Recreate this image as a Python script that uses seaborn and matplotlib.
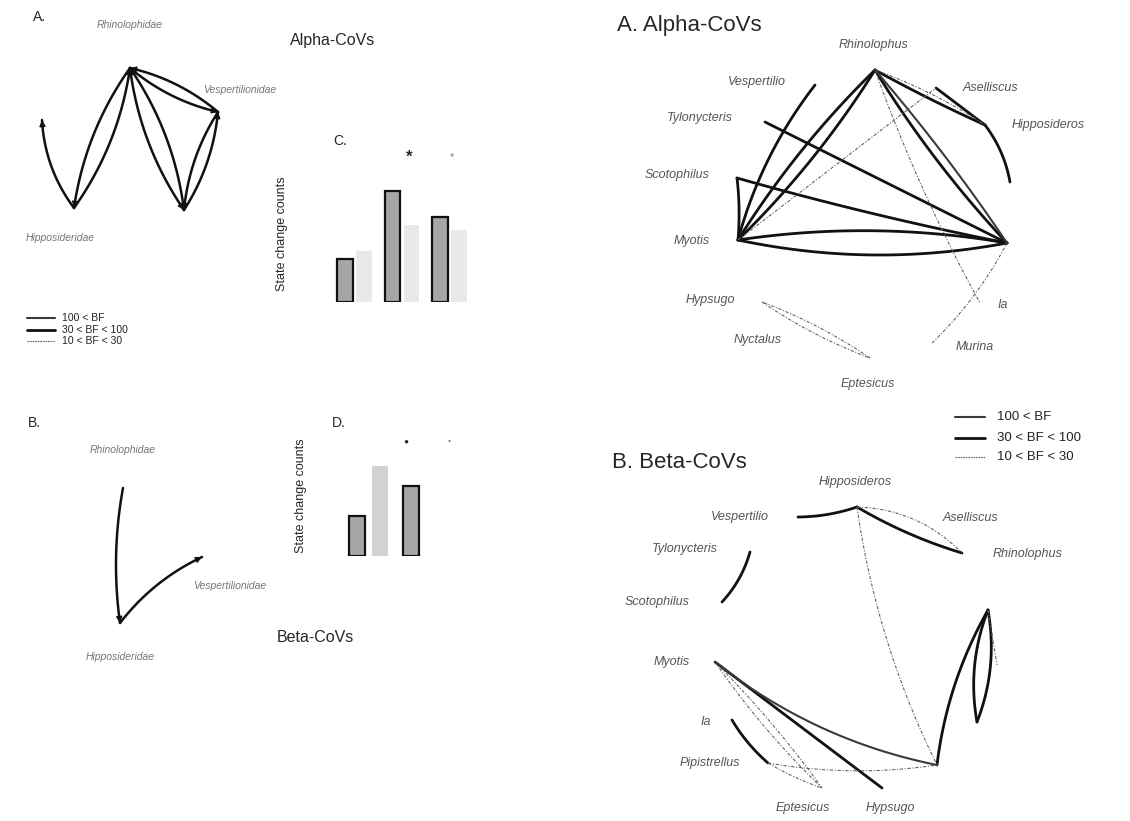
import numpy as np
import pandas as pd
import seaborn as sns
import matplotlib.pyplot as plt

W, H = 1130, 821

# ---- data -----------------------------------------------------------------
# bar panels (C: alpha, D: beta); dark = observed, faint = expected
bar_cats = ["t1", "t2", "t3"]
c_observed = [5, 13, 10]
c_expected = [6, 9, 8.5]
d_observed = [4, 7, 0]
d_expected = [9, 0, 0]

bf_labels = {"strong": "100 < BF", "mid": "30 < BF < 100", "weak": "10 < BF < 30"}

# left-hand family level networks (directed, source -> target)
famA_edges = [
    ("Hipposideridae", "Rhinolophidae"), ("Rhinolophidae", "Hipposideridae"),
    ("Hipposideridae", "fam_x"),
    ("Rhinolophidae", "fam_y"), ("fam_y", "Rhinolophidae"),
    ("Rhinolophidae", "Vespertilionidae"), ("Vespertilionidae", "Rhinolophidae"),
    ("Vespertilionidae", "fam_y"), ("fam_y", "Vespertilionidae"),
]
famB_edges = [("Rhinolophidae", "Hipposideridae"), ("Hipposideridae", "Vespertilionidae")]

# genus level networks: (source, target, BF class, bend)
alpha_edges = [
    ("Vespertilio", "Myotis", "mid", 0.10),
    ("Rhinolophus", "Myotis", "mid", 0.06), ("Myotis", "Rhinolophus", "mid", 0.06),
    ("Myotis", "Aselliscus", "weak", 0.0),
    ("Tylonycteris", "a_r1", "mid", 0.0),
    ("Scotophilus", "a_r1", "mid", 0.02),
    ("Scotophilus", "Myotis", "mid", -0.05),
    ("Myotis", "a_r1", "mid", 0.10), ("a_r1", "Myotis", "mid", 0.08),
    ("Rhinolophus", "a_r1", "mid", 0.05), ("a_r1", "Rhinolophus", "strong", 0.03),
    ("Rhinolophus", "Hipposideros", "mid", 0.02),
    ("Rhinolophus", "Hipposideros", "weak", -0.06),
    ("Aselliscus", "Hipposideros", "mid", 0.0),
    ("Hipposideros", "a_r2", "mid", -0.12),
    ("Rhinolophus", "Ia", "weak", 0.04),
    ("Murina", "a_r1", "weak", 0.08),
    ("Hypsugo", "Eptesicus", "weak", 0.06), ("Eptesicus", "Hypsugo", "weak", 0.06),
]
beta_edges = [
    ("Vespertilio", "Hipposideros", "mid", 0.08),
    ("Hipposideros", "Rhinolophus", "mid", 0.06),
    ("Hipposideros", "Rhinolophus", "weak", -0.2),
    ("Hipposideros", "b_br", "weak", 0.08),
    ("Tylonycteris", "Scotophilus", "mid", -0.12),
    ("Myotis", "b_br", "strong", 0.12),
    ("Myotis", "Hypsugo", "mid", 0.0),
    ("Myotis", "Eptesicus", "weak", -0.04),
    ("Myotis", "Eptesicus", "weak", 0.05),
    ("Ia", "Pipistrellus", "mid", 0.08),
    ("Pipistrellus", "b_br", "weak", 0.08),
    ("Pipistrellus", "Eptesicus", "weak", 0.05),
    ("b_br", "b_r1", "mid", -0.1),
    ("b_r1", "b_r2", "mid", 0.14), ("b_r2", "b_r1", "mid", 0.14),
    ("b_r1", "b_r3", "weak", 0.0),
]

# ---- layout (pixel positions of nodes and labels) -------------------------
famA_pos = {"Rhinolophidae": (130, 68), "Vespertilionidae": (218, 112),
            "Hipposideridae": (74, 208), "fam_x": (42, 120), "fam_y": (184, 210)}
famA_lab = {"Rhinolophidae": (130, 25), "Vespertilionidae": (240, 90),
            "Hipposideridae": (60, 238)}
famB_pos = {"Rhinolophidae": (123, 488), "Hipposideridae": (120, 623),
            "Vespertilionidae": (202, 557)}
famB_lab = {"Rhinolophidae": (123, 450), "Hipposideridae": (120, 657),
            "Vespertilionidae": (230, 586)}

alpha_pos = {"Rhinolophus": (875, 70), "Vespertilio": (815, 85), "Aselliscus": (936, 88),
             "Hipposideros": (985, 125), "Tylonycteris": (765, 122),
             "Scotophilus": (737, 178), "Myotis": (738, 240), "a_r1": (1007, 243),
             "a_r2": (1010, 182), "Hypsugo": (762, 302), "Nyctalus": (810, 342),
             "Eptesicus": (870, 358), "Ia": (980, 303), "Murina": (932, 343)}
alpha_lab = {"Rhinolophus": (873, 45), "Vespertilio": (757, 82), "Aselliscus": (990, 88),
             "Hipposideros": (1048, 125), "Tylonycteris": (700, 118),
             "Scotophilus": (677, 175), "Myotis": (692, 241), "Hypsugo": (710, 300),
             "Nyctalus": (758, 340), "Eptesicus": (868, 384), "Ia": (1003, 305),
             "Murina": (975, 347)}
beta_pos = {"Hipposideros": (857, 507), "Vespertilio": (798, 517), "Aselliscus": (913, 518),
            "Rhinolophus": (962, 553), "Tylonycteris": (750, 552), "Scotophilus": (722, 602),
            "Myotis": (715, 662), "Ia": (732, 720), "Pipistrellus": (768, 763),
            "Eptesicus": (822, 788), "Hypsugo": (882, 788), "b_br": (937, 765),
            "b_r1": (988, 610), "b_r2": (977, 722), "b_r3": (997, 665)}
beta_lab = {"Hipposideros": (855, 482), "Vespertilio": (740, 517), "Aselliscus": (970, 518),
            "Rhinolophus": (1027, 554), "Tylonycteris": (685, 549), "Scotophilus": (657, 602),
            "Myotis": (672, 662), "Ia": (706, 722), "Pipistrellus": (710, 763),
            "Eptesicus": (803, 808), "Hypsugo": (890, 808)}

bf_width = {"strong": 1.5, "mid": 2.0, "weak": 0.8}
bf_color = {"strong": "#3a3a3a", "mid": "#111111", "weak": "#666666"}
bf_dash = {"strong": "", "mid": "", "weak": (3, 1.5, 1, 1.5)}


def bezier(p, q, bend, n=40):
    p, q = np.asarray(p, float), np.asarray(q, float)
    d = q - p
    ctrl = (p + q) / 2 + bend * np.array([-d[1], d[0]])
    t = np.linspace(0, 1, n)[:, None]
    return (1 - t) ** 2 * p + 2 * (1 - t) * t * ctrl + t ** 2 * q


def edge_frame(edges, pos, tag):
    rows = []
    for i, (s, t, bf, bend) in enumerate(edges):
        pts = bezier(pos[s], pos[t], bend)
        for x, y in pts:
            rows.append({"edge": f"{tag}{i}", "x": x, "y": y, "bf": bf})
    return pd.DataFrame(rows)


sns.set_theme(style="white")
plt.rcParams["font.family"] = ["Liberation Sans", "DejaVu Sans"]

fig = plt.figure(figsize=(W / 100, H / 100), dpi=100)
ax = fig.add_axes([0, 0, 1, 1])

# genus networks
net = pd.concat([edge_frame(alpha_edges, alpha_pos, "a"),
                 edge_frame(beta_edges, beta_pos, "b")], ignore_index=True)
sns.lineplot(data=net, x="x", y="y", units="edge", estimator=None, sort=False,
             hue="bf", palette=bf_color, size="bf", sizes=bf_width,
             style="bf", dashes=bf_dash, legend=False, ax=ax)

# family networks with arrows
fam_rows = []
fam_arrows = []
for tag, edges, pos in [("A", famA_edges, famA_pos), ("B", famB_edges, famB_pos)]:
    for i, (s, t) in enumerate(edges):
        bend = 0.12 if tag == "A" else 0.08
        if tag == "B" and s == "Hipposideridae":
            bend = -0.12
        if s == "Hipposideridae" and t == "fam_x":
            bend = -0.15
        pts = bezier(pos[s], pos[t], bend)
        fam_arrows.append(pts)
        for x, y in pts:
            fam_rows.append({"edge": f"{tag}{i}", "x": x, "y": y})
fam = pd.DataFrame(fam_rows)
sns.lineplot(data=fam, x="x", y="y", units="edge", estimator=None, sort=False,
             color="#111111", linewidth=1.8, legend=False, ax=ax)
for pts in fam_arrows:
    ax.annotate("", xy=pts[-1], xytext=pts[-4],
                arrowprops=dict(arrowstyle="-|>", color="#111111", lw=1.0,
                                mutation_scale=9, shrinkA=0, shrinkB=0))

ax.set_xlim(0, W)
ax.set_ylim(H, 0)
ax.set_axis_off()

# node labels
for lab in (famA_lab, famB_lab):
    for name, (x, y) in lab.items():
        ax.text(x, y, name, ha="center", va="center", fontsize=7.5,
                style="italic", color="#777777")
for lab in (alpha_lab, beta_lab):
    for name, (x, y) in lab.items():
        ax.text(x, y, name, ha="center", va="center", fontsize=9,
                style="italic", color="#555555")

# panel titles
ax.text(33, 17, "A.", fontsize=10, va="center", ha="left")
ax.text(28, 423, "B.", fontsize=10, va="center", ha="left")
ax.text(290, 41, "Alpha-CoVs", fontsize=11.5, va="center", ha="left")
ax.text(277, 637, "Beta-CoVs", fontsize=11.5, va="center", ha="left")
ax.text(617, 25, "A. Alpha-CoVs", fontsize=16, va="center", ha="left")
ax.text(612, 462, "B. Beta-CoVs", fontsize=16, va="center", ha="left")
ax.text(333, 141, "C.", fontsize=10, va="center", ha="left")
ax.text(332, 423, "D.", fontsize=10, va="center", ha="left")

# significance marks
ax.text(409, 157, "*", fontsize=12, ha="center", va="center", fontweight="bold")
ax.text(452, 157, "*", fontsize=8, ha="center", va="center", color="#777777")
ax.text(406, 442, "\u25CF", fontsize=6, ha="center", va="center")
ax.text(449, 442, "\u2022", fontsize=6, ha="center", va="center", color="#777777")

# legends
for keys, x0, x1, xt, ys, fs in [
        (["strong", "mid", "weak"], 27, 55, 62, [318, 330, 341], 7.5),
        (["strong", "mid", "weak"], 955, 985, 997, [417, 438, 457], 9.5)]:
    for k, y in zip(keys, ys):
        ax.plot([x0, x1], [y, y], color=bf_color[k], lw=bf_width[k],
                dashes=(1.5, 0.8) if k == "weak" else (None, None))
        ax.text(xt, y, bf_labels[k], fontsize=fs, va="center", ha="left", color="#222222")


# ---- bar panels --------------------------------------------------------
def bar_panel(left, right, bottom, top, ymax, obs, exp, exp_color, gap, ylab_x):
    bx = fig.add_axes([left / W, 1 - bottom / H, (right - left) / W, (bottom - top) / H])
    df = pd.DataFrame({"cat": bar_cats * 2, "value": obs + exp,
                       "kind": ["obs"] * 3 + ["exp"] * 3})
    sns.barplot(data=df, x="cat", y="value", hue="kind", hue_order=["obs", "exp"],
                palette={"obs": "#a6a6a6", "exp": exp_color}, width=0.8 if gap < 0.3 else 0.85,
                gap=gap, legend=False, ax=bx)
    for p in bx.containers[0]:
        p.set_edgecolor("#111111")
        p.set_linewidth(1.6 if p.get_height() > 0 else 0)
    for p in bx.containers[1]:
        p.set_edgecolor("none")
    bx.set_xlim(-0.5, 2.5)
    bx.set_ylim(0, ymax)
    bx.set_xticks([])
    bx.set_yticks([])
    bx.set_xlabel("")
    bx.set_ylabel("State change counts", fontsize=9)
    bx.yaxis.set_label_coords(ylab_x, 0.5)
    bx.patch.set_alpha(0)
    sns.despine(ax=bx, left=True, bottom=True)
    return bx


bar_panel(330.75, 473.25, 302, 166, 16, c_observed, c_expected, "#e9e9e9", 0.2, -0.30)
bar_panel(341.5, 503.5, 556, 436, 12, d_observed, d_expected, "#d2d2d2", 0.33, -0.21)

fig.savefig("out.png", dpi=100)
